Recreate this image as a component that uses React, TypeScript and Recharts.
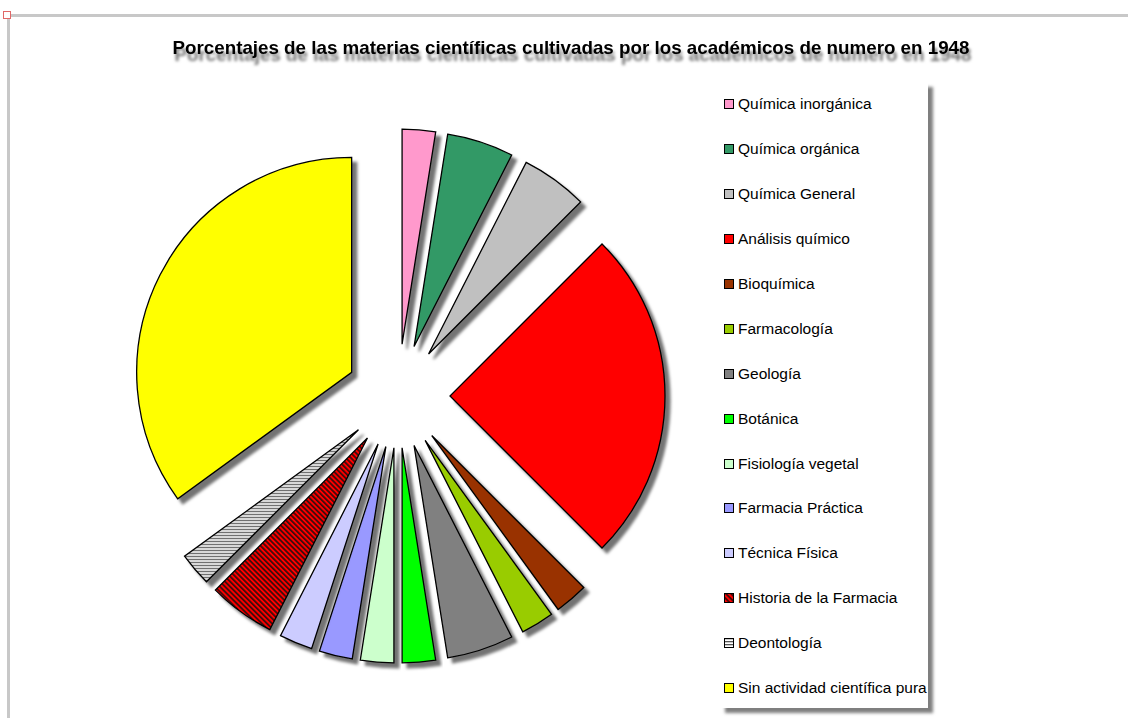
import React from "react";
import { PieChart, Pie, Cell, Legend } from "recharts";

const title =
  "Porcentajes de las materias científicas cultivadas por los académicos de numero en 1948";

const categories = [
  "Química inorgánica",
  "Química orgánica",
  "Química General",
  "Análisis químico",
  "Bioquímica",
  "Farmacología",
  "Geología",
  "Botánica",
  "Fisiología vegetal",
  "Farmacia Práctica",
  "Técnica Física",
  "Historia de la Farmacia",
  "Deontología",
  "Sin actividad científica pura",
];

const percentages = [2.5, 5, 5, 25, 2.5, 2.5, 5, 2.5, 2.5, 2.5, 2.5, 5, 2.5, 35];

const colors = [
  "#FF99CC",
  "#339966",
  "#C0C0C0",
  "#FF0000",
  "#993300",
  "#99CC00",
  "#808080",
  "#00FF00",
  "#CCFFCC",
  "#9999FF",
  "#CCCCFF",
  "url(#hatchHistoria)",
  "url(#hatchDeonto)",
  "#FFFF00",
];

const data = categories.map((name, i) => ({ name, value: percentages[i] }));

// every slice is pulled out of the centre along its own bisector
const EXPLODE = 52;
const total = percentages.reduce((a, b) => a + b, 0);
const offsets = percentages.map((v, i) => {
  const before = percentages.slice(0, i).reduce((a, b) => a + b, 0);
  const mid = ((90 - ((before + v / 2) / total) * 360) * Math.PI) / 180;
  return { dx: EXPLODE * Math.cos(mid), dy: -EXPLODE * Math.sin(mid) };
});

const FONT = "Arial, 'Liberation Sans', Helvetica, sans-serif";

// legend keeps the data order (recharts would sort it by name)
function LegendBox() {
  return (
    <div
      style={{
        width: 208,
        height: 626,
        background: "#fff",
        boxShadow: "5px 5px 3px rgba(0,0,0,0.5)",
        fontFamily: FONT,
        fontSize: 15.5,
        color: "#000",
      }}
    >
      {categories.map((name, i) => (
        <div
          key={name}
          style={{
            height: 44.9,
            display: "flex",
            alignItems: "center",
            paddingLeft: 4,
            whiteSpace: "nowrap",
          }}
        >
          <svg width={10} height={10} style={{ marginRight: 4, flex: "none" }}>
            <rect x={0.5} y={0.5} width={9} height={9} fill={colors[i]} stroke="#000" strokeWidth={1} />
          </svg>
          <span>{name}</span>
        </div>
      ))}
    </div>
  );
}

export default function App() {
  return (
    <div style={{ position: "absolute", left: 0, top: 0, width: 1128, height: 718, background: "#fff" }}>
      {/* page frame */}
      <div style={{ position: "absolute", left: 7, top: 14, width: 1121, height: 3, background: "#c8c8c8" }} />
      <div style={{ position: "absolute", left: 7, top: 14, width: 3, height: 704, background: "#c8c8c8" }} />
      <div
        style={{
          position: "absolute",
          left: 3,
          top: 11,
          width: 6,
          height: 6,
          border: "1px solid #e06868",
          background: "#fff",
          zIndex: 2,
        }}
      />
      <PieChart
        width={1128}
        height={718}
        margin={{ top: 0, right: 0, bottom: 0, left: 0 }}
        style={{ position: "absolute", left: 0, top: 0 }}
      >
        <defs>
          <filter id="sliceShadow" x="-20%" y="-20%" width="140%" height="140%">
            <feDropShadow dx={5} dy={5} stdDeviation={1.5} floodColor="#000" floodOpacity={0.55} />
          </filter>
          <filter id="titleShadow" x="-5%" y="-50%" width="110%" height="200%">
            <feDropShadow dx={2} dy={7} stdDeviation={1.4} floodColor="#000" floodOpacity={0.55} />
          </filter>
          <pattern id="hatchHistoria" width={3.6} height={3.6} patternUnits="userSpaceOnUse" patternTransform="rotate(-45)">
            <rect width={3.6} height={3.6} fill="#FF0000" />
            <rect width={1.7} height={3.6} fill="#3a0a0a" />
          </pattern>
          <pattern id="hatchDeonto" width={3} height={3} patternUnits="userSpaceOnUse">
            <rect width={3} height={3} fill="#FFFFFF" />
            <rect width={3} height={1.3} fill="#555555" />
          </pattern>
        </defs>
        <text
          x={571}
          y={54}
          textAnchor="middle"
          fontFamily={FONT}
          fontWeight="bold"
          fontSize={18.5}
          textLength={797}
          lengthAdjust="spacingAndGlyphs"
          fill="#000"
          filter="url(#titleShadow)"
        >
          {title}
        </text>
        <Pie
          data={data}
          dataKey="value"
          nameKey="name"
          cx={398}
          cy={396}
          outerRadius={215}
          startAngle={90}
          endAngle={-270}
          stroke="#000"
          strokeWidth={1.3}
          isAnimationActive={false}
        >
          {data.map((d, i) => (
            <Cell
              key={d.name}
              fill={colors[i]}
              transform={`translate(${offsets[i].dx}, ${offsets[i].dy})`}
              filter="url(#sliceShadow)"
            />
          ))}
        </Pie>
        <Legend
          content={<LegendBox />}
          wrapperStyle={{ position: "absolute", left: 720, top: 82, width: 208, height: 626 }}
        />
      </PieChart>
    </div>
  );
}
